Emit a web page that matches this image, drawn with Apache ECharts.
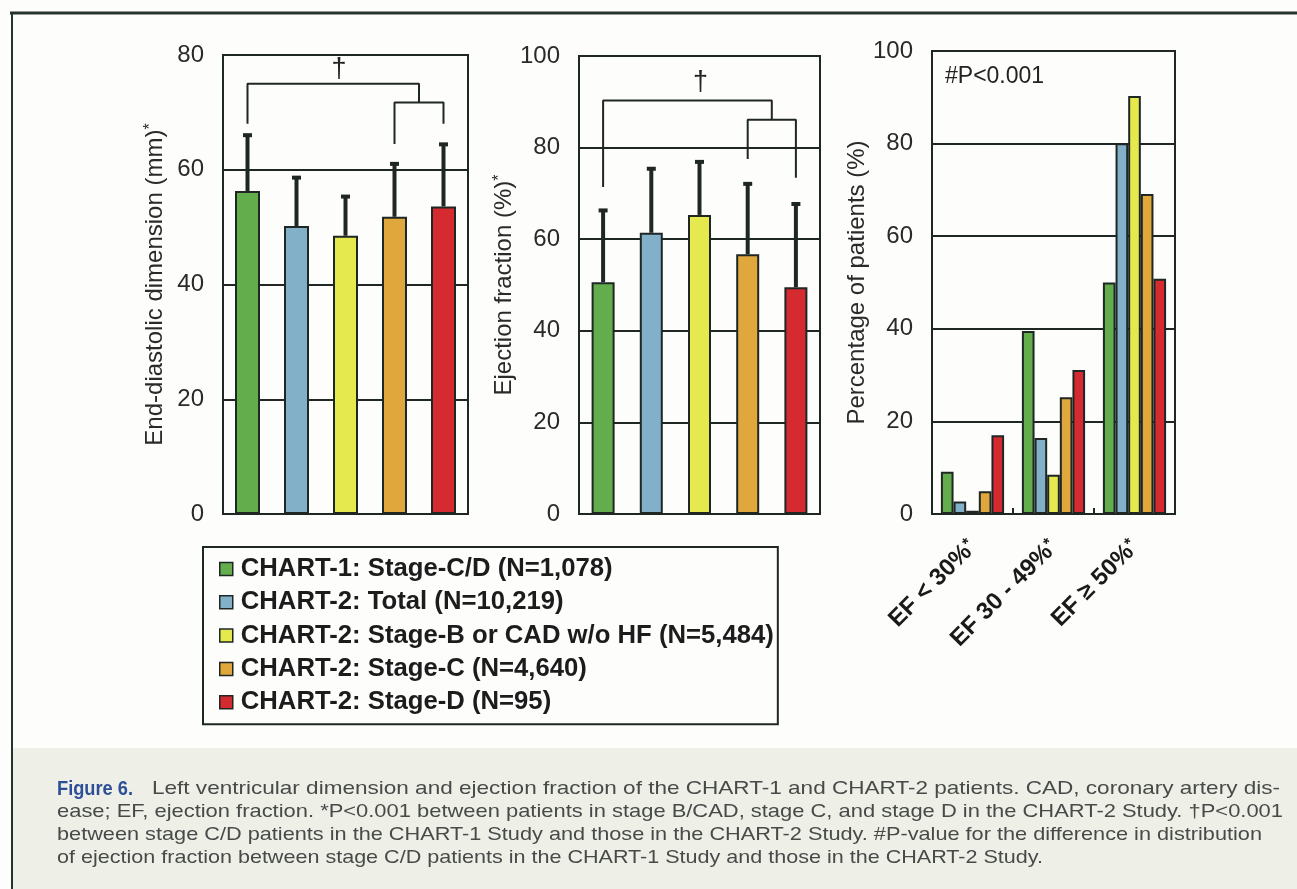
<!DOCTYPE html>
<html>
<head>
<meta charset="utf-8">
<script src="https://cdn.jsdelivr.net/npm/echarts@6/dist/echarts.min.js"></script>
<style>
  html, body { margin: 0; padding: 0; background: #fdfdfc; }
  #main { width: 1297px; height: 889px; }
</style>
</head>
<body>
<div id="main"></div>
<script>
// ---------------- DATA ----------------
const groups = [
  'CHART-1: Stage-C/D (N=1,078)',
  'CHART-2: Total (N=10,219)',
  'CHART-2: Stage-B or CAD w/o HF (N=5,484)',
  'CHART-2: Stage-C (N=4,640)',
  'CHART-2: Stage-D (N=95)'
];
const groupColors = ['#63ad4c', '#82b0c8', '#e6e94e', '#e0a83c', '#d52a30'];

// End-diastolic dimension (mm): mean and SD
const eddMean = [56.3, 50.2, 48.5, 51.8, 53.6];
const eddSD   = [9.9, 8.6, 7.0, 9.4, 11.0];

// Ejection fraction (%): mean and SD
const efMean = [50.6, 61.4, 65.3, 56.7, 49.5];
const efSD   = [15.9, 14.2, 11.8, 15.6, 18.4];

// Distribution of EF classes (% of patients)
const efClasses = ['EF < 30%', 'EF 30 - 49%', 'EF \u2265 50%'];
const distChart1CD = [9.1, 39.5, 50.0];
const distTotal    = [2.7, 16.4, 80.1];
const distStageB   = [0.7, 8.5, 90.3];
const distStageC   = [4.9, 25.2, 69.1];
const distStageD   = [17.0, 31.1, 50.8];

// Y-axis ranges
const eddTicks = { min: 0, max: 80, interval: 20 };
const efTicks  = { min: 0, max: 100, interval: 20 };
const pctTicks = { min: 0, max: 100, interval: 20 };

// Significance brackets [category position, value]
const eddBracketOuter = [[0, 68], [0, 75], [3.5, 75], [3.5, 71.7]];
const eddBracketInner = [[3, 64.5], [3, 71.7], [4, 71.7], [4, 68]];
const eddDagger = [[1.87, 77.5]];
const efBracketOuter = [[0, 71.4], [0, 90.3], [3.5, 90.3], [3.5, 86.1]];
const efBracketInner = [[3, 77.5], [3, 86.1], [4, 86.1], [4, 73.4]];
const efDagger = [[2.02, 94.2]];

const captionLines = [
  'Left ventricular dimension and ejection fraction of the CHART-1 and CHART-2 patients. CAD, coronary artery dis-',
  'ease; EF, ejection fraction. *P<0.001 between patients in stage B/CAD, stage C, and stage D in the CHART-2 Study. \u2020P<0.001',
  'between stage C/D patients in the CHART-1 Study and those in the CHART-2 Study. #P-value for the difference in distribution',
  'of ejection fraction between stage C/D patients in the CHART-1 Study and those in the CHART-2 Study.'
];

// ---------------- STYLE ----------------
const FONT = '"Liberation Sans", Arial, Helvetica, sans-serif';
const INK = '#1f2725';
const distSeries = [distChart1CD, distTotal, distStageB, distStageC, distStageD];

const chart = echarts.init(document.getElementById('main'));

function yAxisFor(gridIndex, ticks, name) {
  return {
    type: 'value', gridIndex: gridIndex,
    min: ticks.min, max: ticks.max, interval: ticks.interval,
    name: name, nameLocation: 'middle', nameGap: 56,
    nameTextStyle: {
      fontFamily: FONT, fontSize: 24, color: '#2a2a2a',
      rich: {
        a: { fontFamily: FONT, fontSize: 24, color: '#2a2a2a' },
        s: { fontFamily: FONT, fontSize: 16, color: '#2a2a2a', verticalAlign: 'top' }
      }
    },
    axisLine: { show: false }, axisTick: { show: false },
    axisLabel: { fontFamily: FONT, fontSize: 24, color: '#2a2a2a', margin: 19 },
    splitLine: { show: true, lineStyle: { color: INK, width: 2 } }
  };
}
function catAxis(gridIndex, data) {
  return {
    type: 'category', gridIndex: gridIndex, data: data,
    axisLine: { show: false }, axisTick: { show: false }, axisLabel: { show: false },
    splitLine: { show: false }
  };
}
function hiddenValueX(gridIndex) {
  return { type: 'value', gridIndex: gridIndex, min: -0.5, max: 4.5, show: false };
}
function errorRender(params, api) {
  const i = api.value(0);
  const a = api.coord([i, api.value(1)]);
  const b = api.coord([i, api.value(2)]);
  return {
    type: 'group',
    children: [
      { type: 'line', shape: { x1: a[0], y1: a[1], x2: b[0], y2: b[1] },
        style: { stroke: INK, lineWidth: 4 } },
      { type: 'rect', shape: { x: b[0] - 4.5, y: b[1] - 1, width: 9, height: 4 },
        style: { fill: INK } }
    ]
  };
}
function daggerRender(params, api) {
  const p = api.coord([api.value(0), api.value(1)]);
  return { type: 'text', x: p[0], y: p[1],
    style: { text: '\u2020', fontFamily: FONT, fontSize: 27, fill: '#222', align: 'center', verticalAlign: 'middle' } };
}
function bracketSeries(xi, yi, data) {
  return { type: 'line', xAxisIndex: xi, yAxisIndex: yi, data: data, symbol: 'none',
    lineStyle: { color: INK, width: 2 }, silent: true, z: 4 };
}
function meanBar(xi, yi, means, width, name) {
  return {
    type: 'bar', name: name, xAxisIndex: xi, yAxisIndex: yi, barWidth: width,
    data: means.map((v, i) => ({ value: v, itemStyle: { color: groupColors[i] } })),
    itemStyle: { borderColor: INK, borderWidth: 2 }, z: 2
  };
}

// caption text measurement for width fitting
const mctx = document.createElement('canvas').getContext('2d');
function fitText(text, font, x, y, targetWidth, fill) {
  mctx.font = font;
  const w = mctx.measureText(text).width;
  return { type: 'text', x: x, y: y, scaleX: targetWidth / w, z: 10,
    style: { text: text, font: font, fill: fill, align: 'left', verticalAlign: 'middle' } };
}
const capFont = '19px ' + FONT;
const capColor = '#474a48';

const graphics = [
  { type: 'rect', shape: { x: 12, y: 748, width: 1285, height: 141 }, style: { fill: '#eef0e7' }, z: 0 },
  { type: 'line', shape: { x1: 10, y1: 13, x2: 1297, y2: 13 }, style: { stroke: '#27332f', lineWidth: 3 }, z: 5 },
  { type: 'line', shape: { x1: 12, y1: 12, x2: 12, y2: 889 }, style: { stroke: '#27332f', lineWidth: 2 }, z: 5 },
  { type: 'text', x: 945, y: 77, z: 10,
    style: { text: '#P<0.001', fontFamily: FONT, fontSize: 23, fill: '#222', align: 'left', verticalAlign: 'middle' } },
  fitText('Figure 6.', 'bold 21px ' + FONT, 57, 789, 76, '#2d4f97'),
  fitText(captionLines[0], capFont, 152, 789, 1128, capColor),
  fitText(captionLines[1], capFont, 57, 812, 1226, capColor),
  fitText(captionLines[2], capFont, 57, 835, 1205, capColor),
  fitText(captionLines[3], capFont, 57, 858, 986, capColor)
];

const option = {
  animation: false,
  backgroundColor: '#fdfdfc',
  textStyle: { fontFamily: FONT },
  grid: [
    { left: 223, top: 55, width: 245, height: 459, show: true, borderColor: INK, borderWidth: 2, backgroundColor: 'transparent' },
    { left: 579, top: 56, width: 241, height: 458, show: true, borderColor: INK, borderWidth: 2, backgroundColor: 'transparent' },
    { left: 932, top: 51, width: 243, height: 463, show: true, borderColor: INK, borderWidth: 2, backgroundColor: 'transparent' }
  ],
  xAxis: [
    catAxis(0, groups),
    hiddenValueX(0),
    catAxis(1, groups),
    hiddenValueX(1),
    {
      type: 'category', gridIndex: 2, data: efClasses,
      axisLine: { show: false },
      axisTick: { show: true, inside: true, length: 6, lineStyle: { color: INK, width: 2 } },
      axisLabel: {
        rotate: 45, margin: 30, interval: 0,
        formatter: v => '{a|' + v + '}{s|*}',
        rich: {
          a: { fontFamily: FONT, fontSize: 24, fontWeight: 'bold', color: '#1a1a1a' },
          s: { fontFamily: FONT, fontSize: 16, fontWeight: 'bold', color: '#1a1a1a', verticalAlign: 'top' }
        }
      },
      splitLine: { show: false }
    }
  ],
  yAxis: [
    yAxisFor(0, eddTicks, '{a|End-diastolic dimension (mm)}{s|*}'),
    yAxisFor(1, efTicks, '{a|Ejection fraction (%)}{s|*}'),
    yAxisFor(2, pctTicks, '{a|Percentage of patients (%)}')
  ],
  legend: {
    data: groups,
    orient: 'vertical', left: 203, top: 547,
    padding: [9, 4, 9, 16],
    itemWidth: 13, itemHeight: 13, itemGap: 7.3,
    icon: 'rect',
    selectedMode: false,
    borderColor: INK, borderWidth: 2,
    itemStyle: { borderColor: INK, borderWidth: 1.5 },
    textStyle: { fontFamily: FONT, fontSize: 25.7, fontWeight: 'bold', color: '#1c1c1c', lineHeight: 26, padding: [0, 0, 0, 3] }
  },
  graphic: graphics,
  series: [
    meanBar(0, 0, eddMean, 25, 'End-diastolic dimension'),
    { type: 'custom', xAxisIndex: 0, yAxisIndex: 0, renderItem: errorRender, z: 3,
      data: eddMean.map((m, i) => [i, m, m + eddSD[i]]) },
    bracketSeries(1, 0, eddBracketOuter),
    bracketSeries(1, 0, eddBracketInner),
    { type: 'custom', xAxisIndex: 1, yAxisIndex: 0, renderItem: daggerRender, data: eddDagger, z: 4 },

    meanBar(2, 1, efMean, 23, 'Ejection fraction'),
    { type: 'custom', xAxisIndex: 2, yAxisIndex: 1, renderItem: errorRender, z: 3,
      data: efMean.map((m, i) => [i, m, m + efSD[i]]) },
    bracketSeries(3, 1, efBracketOuter),
    bracketSeries(3, 1, efBracketInner),
    { type: 'custom', xAxisIndex: 3, yAxisIndex: 1, renderItem: daggerRender, data: efDagger, z: 4 }
  ].concat(distSeries.map((arr, k) => ({
    type: 'bar', name: groups[k], xAxisIndex: 4, yAxisIndex: 2,
    data: arr, barGap: '0%', barCategoryGap: '22%',
    itemStyle: { color: groupColors[k], borderColor: INK, borderWidth: 2 }, z: 2
  })))
};
chart.setOption(option);
</script>
</body>
</html>
